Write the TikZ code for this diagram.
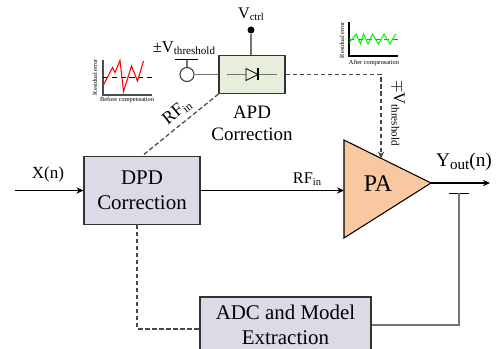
\documentclass[tikz,border=0pt]{standalone}
\usepackage{fontspec}
\setmainfont{Liberation Serif}
\usetikzlibrary{arrows.meta,positioning,calc}
\definecolor{boxpurple}{HTML}{DDD9E6}
\definecolor{boxgreen}{HTML}{E7EEDC}
\definecolor{paorange}{HTML}{F8C8A0}
\definecolor{wiregray}{HTML}{747474}
\definecolor{dashgray}{HTML}{484848}
\newcommand{\fs}[1]{\fontsize{#1}{#1}\selectfont}
\newcommand{\lowered}[2]{\raisebox{-0.3ex}{\fs{#1}#2}}

\begin{document}
\begin{tikzpicture}[
  box/.style={draw=black!80, line width=0.6pt, align=center, inner sep=0pt,
              font=\fontsize{11.9}{14.4}\selectfont},
  lbl/.style={inner sep=0pt, align=center},
  tinytext/.style={inner sep=0pt, font=\fontsize{3.6}{4}\selectfont},
  wire/.style={wiregray, line width=0.9pt},
  dashwire/.style={dashgray, line width=0.7pt, dash pattern=on 2.6pt off 1.4pt},
  plotaxis/.style={line width=0.7pt},
  >={Stealth[length=4pt,width=3.6pt]}
]
  \useasboundingbox (0,0) rectangle (9.92,6.98);

  \node[box, fill=boxpurple, minimum width=2.32cm, minimum height=1.36cm] (dpd) at (2.84,3.17) {DPD\\Correction};
  \node[box, fill=boxpurple, minimum width=3.42cm, minimum height=1.12cm] (adc) at (5.71,0.48) {ADC and Model\\Extraction};
  \node[box, fill=boxgreen, minimum width=1.32cm, minimum height=0.76cm] (apd) at (5.04,5.49) {};
  \node[lbl, font=\fontsize{10.8}{12.6}\selectfont] (apdlabel) at (5.04,4.52) {APD\\Correction};

  \coordinate (patop) at (6.88,4.18);
  \coordinate (pabot) at (6.88,2.22);
  \coordinate (patip) at (8.62,3.32);
  \coordinate (pain) at (6.88,3.17);
  \coordinate (pavin) at (7.62,3.81);
  \draw[fill=paorange, line width=0.6pt] (patop) -- (patip) -- (pabot) -- cycle;
  \node[lbl, font=\fs{13.6}] (palabel) at (7.56,3.30) {PA};

  % signal path
  \coordinate (xin) at (0.30,3.17);
  \coordinate (yout) at (9.80,3.32);
  \draw[->, line width=0.6pt] (xin) -- (dpd.west);
  \draw[->, line width=0.6pt] (dpd.east) -- (pain);
  \draw[->, line width=0.6pt] (patip) -- (yout);
  \node[lbl, font=\fs{9.7}] (xlabel) at (0.96,3.50) {X(n)};
  \node[lbl, font=\fs{9.3}] (rflabel) at (6.14,3.40) {RF\lowered{6}{in}};
  \node[lbl, font=\fs{11}] (ylabel) at (9.28,3.74) {Y\lowered{8.6}{out}(n)};

  % feedback
  \coordinate (tapl) at (8.98,3.12);
  \coordinate (tap) at (9.18,3.12);
  \coordinate (tapr) at (9.38,3.12);
  \coordinate (dpdout) at (2.74,2.49);
  \draw[line width=0.5pt] (tapl) -- (tapr);
  \draw[wire, line width=1.1pt] (tap) |- (adc.east);
  \draw[dashwire] (dpdout) |- ($(adc.west)+(0,-0.08)$);

  % APD branch
  \node[circle, draw=black!80, line width=0.6pt, minimum size=0.28cm, inner sep=0pt] (vsrc) at (3.74,5.49) {};
  \node[circle, fill=black, minimum size=0.14cm, inner sep=0pt] (vdot) at (5.02,6.38) {};
  \coordinate (vbar) at (3.74,5.80);
  \draw[wire] (vsrc) -- (apd.west);
  \draw[wire] (vsrc) -- (vbar);
  \draw[line width=0.45pt] ($(vbar)+(-0.24,0)$) -- ($(vbar)+(0.22,0)$);
  \draw[wire] (vdot) -- (vdot |- apd.north);
  \draw[dashwire] (apd.south west) -- (dpd.north);
  \draw[dashwire, ->] (apd.east) -| (pavin);
  \node[lbl, font=\fs{9.4}] (vthlabel) at (3.68,6.02) {±V\lowered{6.3}{threshold}};
  \node[lbl, font=\fs{9.2}] (vctrl) at (5.02,6.70) {V\lowered{6}{ctrl}};
  \node[lbl, font=\fs{10.2}, rotate=39] (rfapd) at (3.54,4.74) {RF\lowered{6.6}{in}};
  \node[lbl, font=\fs{9.4}, rotate=-90] (vthpa) at (7.96,4.72) {$\mp$V\lowered{6.3}{threshold}};

  % diode
  \draw[wire] ($(apd.center)+(-0.50,0)$) -- ($(apd.center)+(0.50,0)$);
  \draw[line width=0.5pt, fill=boxgreen] ($(apd.center)+(-0.12,0.12)$) -- ($(apd.center)+(0.12,0)$) -- ($(apd.center)+(-0.12,-0.12)$) -- cycle;
  \draw[line width=0.6pt] ($(apd.center)+(0.12,0.12)$) -- ($(apd.center)+(0.12,-0.12)$);

  % before compensation
  \draw[plotaxis, black!70] (2.06,5.78) -- (2.06,5.08) -- (3.04,5.08);
  \draw[densely dashed, line width=0.4pt] (2.06,5.44) -- (3.04,5.44);
  \draw[red, line width=0.6pt] (2.07,5.28) -- (2.25,5.63) -- (2.30,5.53) -- (2.40,5.77) -- (2.47,5.15) -- (2.63,5.66) -- (2.75,5.36) -- (2.87,5.76);
  \node[tinytext, rotate=90] (errbefore) at (1.90,5.44) {Residual error};
  \node[tinytext] (before) at (2.54,4.98) {Before compensation};

  % after compensation
  \draw[plotaxis, black] (6.98,6.54) -- (6.98,5.86) -- (7.96,5.86);
  \draw[densely dashed, line width=0.4pt, black!60] (6.98,6.20) -- (7.96,6.20);
  \draw[green, line width=0.6pt] (6.99,6.13) -- (7.12,6.30) -- (7.21,6.10) -- (7.27,6.30) -- (7.36,6.10) -- (7.45,6.30) -- (7.57,6.10) -- (7.68,6.30) -- (7.80,6.10) -- (7.91,6.30);
  \node[tinytext, rotate=90] (errafter) at (6.84,6.18) {Residual error};
  \node[tinytext] (after) at (7.48,5.72) {After compensation};
\end{tikzpicture}
\end{document}
